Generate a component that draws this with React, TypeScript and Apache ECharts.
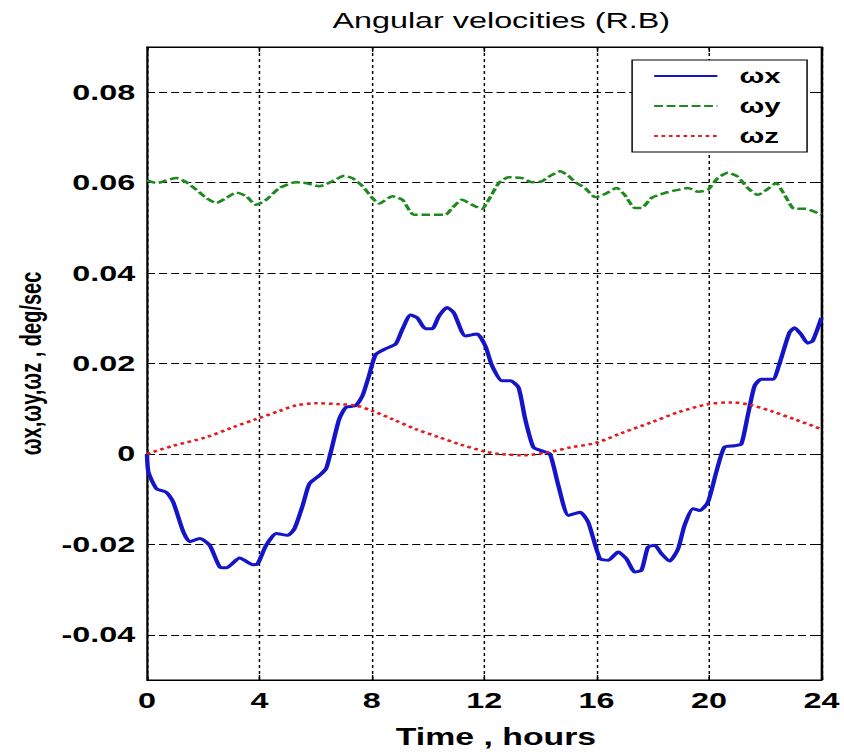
import React, { useEffect, useRef } from "react";
import * as echarts from "echarts";

const TITLE = "Angular velocities (R.B)";
const X_NAME = "Time , hours";
const Y_NAME = "ωx,ωy,ωz , deg/sec";
const SERIES_NAMES = ["ωx", "ωy", "ωz"];
const Y_TICKS = [-0.04, -0.02, 0, 0.02, 0.04, 0.06, 0.08];

const TX = [0, 0.05, 0.34, 0.69, 0.93, 1.29, 1.52, 1.88, 2.23, 2.59, 2.82, 3.3, 3.77, 3.94, 4.24, 4.6, 5.01, 5.25, 5.54, 5.78, 6.13, 6.37, 6.54, 6.84, 7.08, 7.43, 7.67, 7.9, 8.14, 8.5, 8.85, 9.09, 9.38, 9.62, 9.91, 10.15, 10.39, 10.68, 10.92, 11.33, 11.75, 12.04, 12.28, 12.63, 12.93, 13.22, 13.46, 13.75, 14.05, 14.34, 14.64, 15.0, 15.41, 15.7, 16.12, 16.41, 16.77, 17.06, 17.36, 17.6, 17.83, 18.07, 18.3, 18.6, 18.9, 19.13, 19.43, 19.67, 19.96, 20.26, 20.55, 20.91, 21.15, 21.38, 21.62, 21.85, 22.27, 22.5, 22.86, 23.04, 23.27, 23.51, 23.69, 24];
const WX = [0, -0.004, -0.0077, -0.0085, -0.0106, -0.0172, -0.0194, -0.0187, -0.0202, -0.025, -0.0252, -0.023, -0.0245, -0.0243, -0.0202, -0.0176, -0.018, -0.0165, -0.0114, -0.0066, -0.0048, -0.0033, 0.0004, 0.0077, 0.0103, 0.0107, 0.0129, 0.0173, 0.022, 0.0233, 0.0243, 0.0276, 0.0307, 0.0301, 0.0277, 0.0277, 0.0305, 0.0324, 0.0312, 0.0261, 0.0265, 0.0239, 0.0195, 0.0162, 0.0162, 0.0147, 0.0077, 0.0015, 0.0007, 0, -0.007, -0.0136, -0.0129, -0.0151, -0.0232, -0.0235, -0.0217, -0.0232, -0.0261, -0.0257, -0.0206, -0.0202, -0.022, -0.0237, -0.021, -0.0158, -0.0121, -0.0125, -0.0107, -0.004, 0.0015, 0.0018, 0.0022, 0.0085, 0.015, 0.0165, 0.0165, 0.0198, 0.0268, 0.0279, 0.0265, 0.0245, 0.025, 0.0301];

const TY = [0, 0.34, 0.69, 1.05, 1.4, 1.76, 2.11, 2.47, 2.82, 3.18, 3.53, 3.88, 4.24, 4.71, 5.3, 5.66, 6.13, 6.6, 7.02, 7.31, 7.67, 8.02, 8.26, 8.73, 9.09, 9.5, 10.03, 10.62, 10.86, 11.21, 11.57, 11.92, 12.16, 12.52, 12.87, 13.35, 13.7, 14.05, 14.35, 14.7, 15.0, 15.24, 15.59, 15.95, 16.3, 16.71, 17.0, 17.36, 17.6, 17.95, 18.42, 18.9, 19.25, 19.61, 19.96, 20.31, 20.67, 21.03, 21.38, 21.74, 22.09, 22.39, 22.69, 23.04, 23.45, 24];
const WY = [0.0605, 0.0599, 0.0605, 0.061, 0.0601, 0.0584, 0.0566, 0.0555, 0.0566, 0.0578, 0.057, 0.0551, 0.0562, 0.0588, 0.0601, 0.0599, 0.0592, 0.0603, 0.0615, 0.061, 0.0592, 0.0566, 0.0554, 0.057, 0.0562, 0.0529, 0.0529, 0.0529, 0.0544, 0.0562, 0.0551, 0.0542, 0.0562, 0.0599, 0.0612, 0.061, 0.0601, 0.0603, 0.0615, 0.0625, 0.0615, 0.0601, 0.0588, 0.0568, 0.0575, 0.0588, 0.0573, 0.0544, 0.0544, 0.0566, 0.0577, 0.0584, 0.0588, 0.058, 0.0584, 0.061, 0.0622, 0.0613, 0.0588, 0.0573, 0.0586, 0.0599, 0.0573, 0.0542, 0.0542, 0.0529];

const TZ = [0, 0.93, 2.11, 3.06, 3.88, 4.71, 5.3, 6.01, 6.84, 7.43, 8.02, 8.73, 9.56, 10.39, 11.1, 12.04, 12.52, 13.35, 14.29, 15.12, 15.95, 16.89, 17.95, 18.9, 19.96, 20.79, 21.5, 22.2, 23.03, 24];
const WZ = [0, 0.0018, 0.0037, 0.0059, 0.0077, 0.0095, 0.0107, 0.0112, 0.011, 0.0107, 0.0095, 0.0077, 0.0055, 0.0037, 0.0022, 0.0005, 0, -0.0003, 0.0004, 0.0015, 0.0024, 0.0046, 0.007, 0.0092, 0.011, 0.0114, 0.0108, 0.0095, 0.0077, 0.0055];

const SX = 1.47;
const W = 844;
const H = 754;
const IW = W / SX;
const FONT = "Arial, 'Liberation Sans', Helvetica, sans-serif";

export default function App() {
  const ref = useRef<HTMLDivElement>(null);

  useEffect(() => {
    if (!ref.current) return;
    const chart = echarts.init(ref.current, undefined, { renderer: "svg" });
    const labelFmt = (v: number) => String(Number(Number(v).toFixed(2)));
    const option: any = {
      animation: false,
      backgroundColor: "#ffffff",
      title: {
        text: TITLE,
        left: 336,
        top: 4,
        textAlign: "center",
        textStyle: { fontFamily: FONT, fontSize: 22, fontWeight: "normal", color: "#000" },
      },
      legend: {
        orient: "vertical",
        left: 430,
        top: 60,
        data: SERIES_NAMES,
        backgroundColor: "#fff",
        borderColor: "#000",
        borderWidth: 1,
        borderRadius: 0,
        padding: [6, 18, 6, 14],
        itemGap: 10,
        itemWidth: 43,
        itemHeight: 20,
        selectedMode: false,
        itemStyle: { opacity: 0 },
        textStyle: { fontFamily: FONT, fontSize: 20, fontWeight: "bold", color: "#000", padding: [0, 0, 0, 10] },
      },
      grid: {
        left: 100,
        right: IW - 560.5,
        top: 47,
        bottom: 72,
        show: true,
        borderColor: "#000",
        borderWidth: 1,
        backgroundColor: "transparent",
      },
      xAxis: [
        {
          type: "value",
          min: 0,
          max: 24,
          interval: 4,
          position: "bottom",
          name: X_NAME,
          nameLocation: "middle",
          nameGap: 46,
          nameTextStyle: { fontFamily: FONT, fontSize: 23, fontWeight: "bold", color: "#000", padding: [0, 0, 0, 16] },
          axisLine: { show: true, onZero: false, lineStyle: { color: "#000", width: 1 } },
          axisTick: { show: true, inside: true, length: 5, lineStyle: { color: "#000" } },
          axisLabel: { margin: 9, fontFamily: FONT, fontSize: 22, fontWeight: "bold", color: "#000" },
          splitLine: { show: true, lineStyle: { color: "#000", width: 1, type: [3, 3] } },
        },
        {
          type: "value",
          min: 0,
          max: 24,
          interval: 4,
          position: "top",
          axisLine: { show: true, onZero: false, lineStyle: { color: "#000", width: 1 } },
          axisTick: { show: true, inside: true, length: 5, lineStyle: { color: "#000" } },
          axisLabel: { show: false },
          splitLine: { show: false },
        },
      ],
      yAxis: [
        {
          type: "value",
          min: -0.05,
          max: 0.09,
          position: "left",
          name: Y_NAME,
          nameLocation: "middle",
          nameGap: 64,
          nameTextStyle: { fontFamily: FONT, fontSize: 20, fontWeight: "bold", color: "#000" },
          axisLine: { show: true, onZero: false, lineStyle: { color: "#000", width: 1 } },
          axisTick: { show: true, inside: true, length: 5, customValues: Y_TICKS, lineStyle: { color: "#000" } },
          axisLabel: { customValues: Y_TICKS, margin: 8, formatter: labelFmt, fontFamily: FONT, fontSize: 22, fontWeight: "bold", color: "#000" },
          splitLine: { show: true, lineStyle: { color: "#000", width: 1, type: [5.5, 2.7] } },
        },
        {
          type: "value",
          min: -0.05,
          max: 0.09,
          position: "right",
          axisLine: { show: true, onZero: false, lineStyle: { color: "#000", width: 1 } },
          axisTick: { show: true, inside: true, length: 5, customValues: Y_TICKS, lineStyle: { color: "#000" } },
          axisLabel: { show: false },
          splitLine: { show: false },
        },
      ],
      series: [
        {
          name: SERIES_NAMES[0],
          type: "line",
          xAxisIndex: 0,
          yAxisIndex: 0,
          data: TX.map((t, i) => [t, WX[i]]),
          symbol: "none",
          showSymbol: false,
          smooth: 0.2,
          lineStyle: { color: "#1414c8", width: 3, type: "solid" },
          itemStyle: { color: "#1414c8" },
          z: 3,
        },
        {
          name: SERIES_NAMES[1],
          type: "line",
          xAxisIndex: 0,
          yAxisIndex: 0,
          data: TY.map((t, i) => [t, WY[i]]),
          symbol: "none",
          showSymbol: false,
          smooth: 0.2,
          lineStyle: { color: "#1e8a1e", width: 2.5, type: [6, 2.5] },
          itemStyle: { color: "#1e8a1e" },
          z: 3,
        },
        {
          name: SERIES_NAMES[2],
          type: "line",
          xAxisIndex: 0,
          yAxisIndex: 0,
          data: TZ.map((t, i) => [t, WZ[i]]),
          symbol: "none",
          showSymbol: false,
          smooth: 0.3,
          lineStyle: { color: "#e01e1e", width: 2.5, type: [2.5, 2.5] },
          itemStyle: { color: "#e01e1e" },
          z: 4,
        },
      ],
    };
    chart.setOption(option);
    return () => chart.dispose();
  }, []);

  return (
    <div style={{ position: "fixed", left: 0, top: 0, width: W, height: H, overflow: "hidden", background: "#fff" }}>
      <div
        ref={ref}
        style={{ width: IW, height: H, transform: `scaleX(${SX})`, transformOrigin: "0 0" }}
      />
    </div>
  );
}
